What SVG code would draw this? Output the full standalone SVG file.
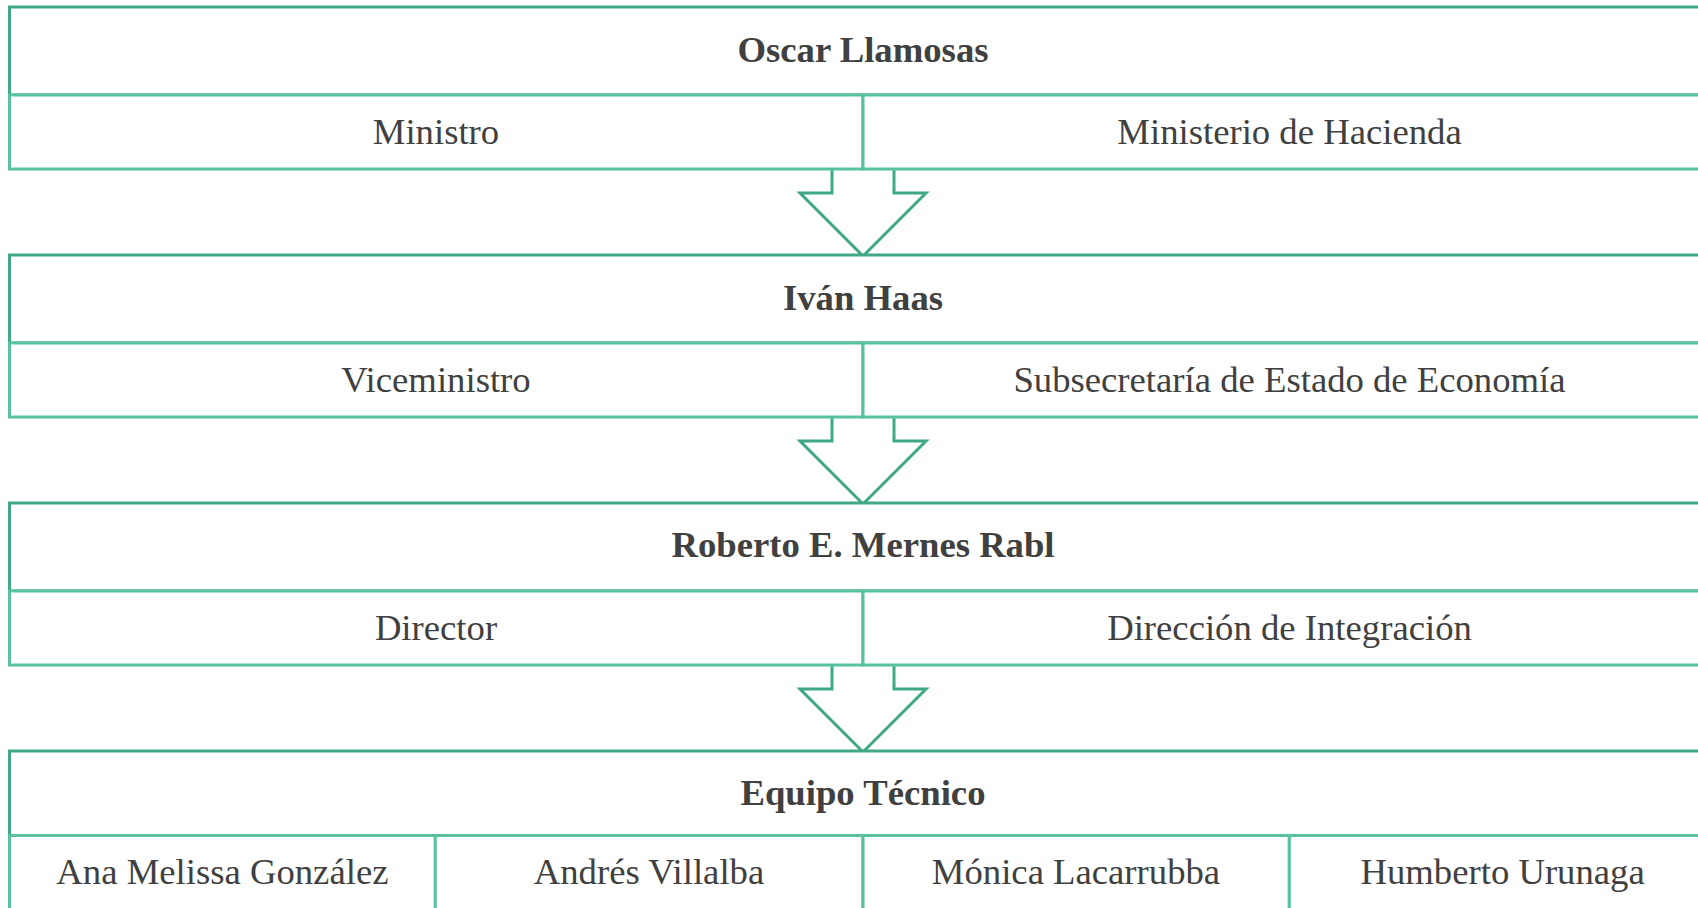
<svg xmlns="http://www.w3.org/2000/svg" width="1698" height="908" viewBox="0 0 1698 908">
<style>
.head{fill:#fff;stroke:#40a885;stroke-width:3}
.cell{fill:#fff;stroke:#58c29e;stroke-width:3}
.arrow{fill:#fff;stroke:#3fa986;stroke-width:3;stroke-linejoin:miter}
.t{font-family:"Liberation Serif","Times New Roman",serif;font-size:36.7px;fill:#404040;text-anchor:middle}
.b{font-weight:bold}
</style>
<rect x="0" y="0" width="1698" height="908" fill="#fff"/>
<g id="connectors">
<path class="arrow" d="M832,169 V193 H800 L863,256 L926,193 H894 V169"/>
<path class="arrow" d="M832,417 V441 H800 L863,504 L926,441 H894 V417"/>
<path class="arrow" d="M832,665 V689 H800 L863,752 L926,689 H894 V665"/>
</g>
<g id="node-oscar">
<rect class="head" x="9.5" y="7" width="1706.5" height="88"/>
<rect class="cell" x="9.5" y="95" width="853.5" height="74"/>
<rect class="cell" x="863" y="95" width="853" height="74"/>
<text class="t b" x="863" y="62">Oscar Llamosas</text>
<text class="t" x="436" y="144.3">Ministro</text>
<text class="t" x="1289.5" y="144.3">Ministerio de Hacienda</text>
</g>
<g id="node-ivan">
<rect class="head" x="9.5" y="255" width="1706.5" height="88"/>
<rect class="cell" x="9.5" y="343" width="853.5" height="74"/>
<rect class="cell" x="863" y="343" width="853" height="74"/>
<text class="t b" x="863" y="310">Iván Haas</text>
<text class="t" x="436" y="392.3">Viceministro</text>
<text class="t" x="1289.5" y="392.3">Subsecretaría de Estado de Economía</text>
</g>
<g id="node-roberto">
<rect class="head" x="9.5" y="503" width="1706.5" height="88"/>
<rect class="cell" x="9.5" y="591" width="853.5" height="74"/>
<rect class="cell" x="863" y="591" width="853" height="74"/>
<text class="t b" x="863" y="557">Roberto E. Mernes Rabl</text>
<text class="t" x="436" y="640.2">Director</text>
<text class="t" x="1289.5" y="640.2">Dirección de Integración</text>
</g>
<g id="node-equipo">
<rect class="head" x="9.5" y="751" width="1706.5" height="84.5"/>
<rect class="cell" x="9.5" y="835.5" width="425.8" height="80"/>
<rect class="cell" x="435.3" y="835.5" width="427.7" height="80"/>
<rect class="cell" x="863" y="835.5" width="426.3" height="80"/>
<rect class="cell" x="1289.3" y="835.5" width="426.7" height="80"/>
<text class="t b" x="863" y="805">Equipo Técnico</text>
<text class="t" x="222.4" y="883.5">Ana Melissa González</text>
<text class="t" x="649" y="883.5">Andrés Villalba</text>
<text class="t" x="1076" y="883.5">Mónica Lacarrubba</text>
<text class="t" x="1502.6" y="883.5">Humberto Urunaga</text>
</g>
</svg>
